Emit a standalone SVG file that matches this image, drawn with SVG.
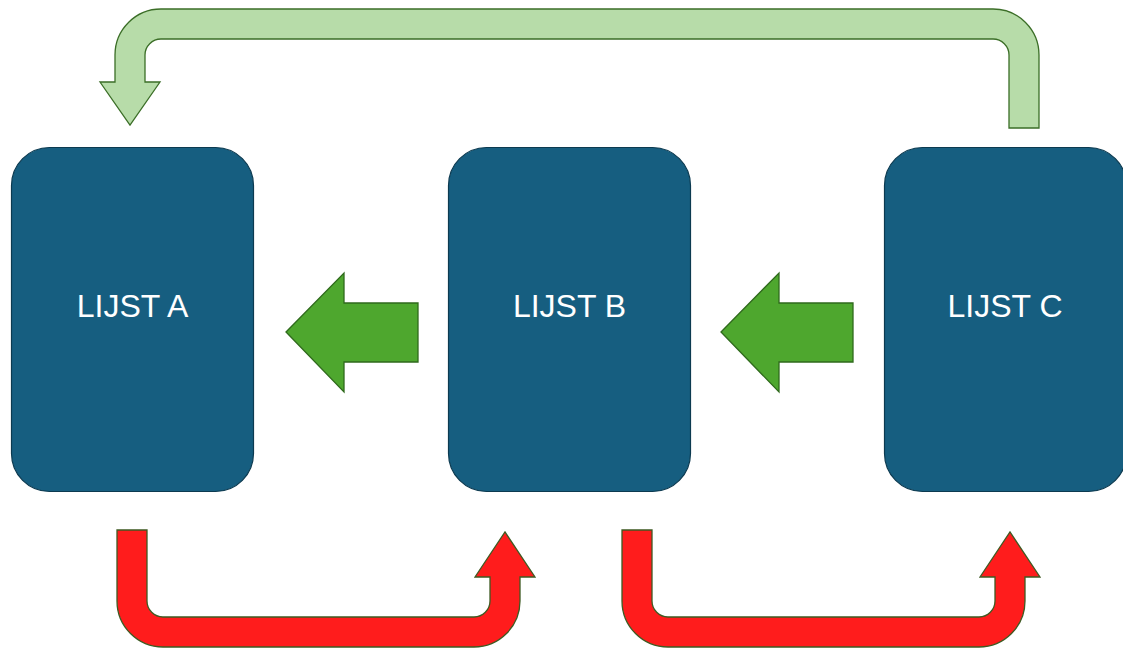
<svg xmlns="http://www.w3.org/2000/svg" width="1123" height="650" viewBox="0 0 1123 650">
  <style>
    .box { fill: #165E80; stroke: #0C3A50; stroke-width: 1.2; }
    .label { fill: #FFFFFF; font-family: "Liberation Sans", Arial, sans-serif; font-size: 32px; text-anchor: middle; }
    .back { fill: #B7DCA9; stroke: #3B6E27; stroke-width: 1.3; stroke-linejoin: miter; }
    .step { fill: #4EA72E; stroke: #2F6A1C; stroke-width: 1.3; }
    .forward { fill: #FF1C1C; stroke: #3E5A22; stroke-width: 1.3; }
  </style>
  <rect width="1123" height="650" fill="#FFFFFF"/>

  <!-- connectors -->
  <g id="connectors">
    <!-- return arrow from C back to A over the top -->
    <path class="back" d="M1009,128 L1009,55 A16,16 0 0 0 993,39 L161,39 A16,16 0 0 0 145,55 L145,82 L160,82 L130,125 L100,82 L115,82 L115,55 A46,46 0 0 1 161,9 L993,9 A46,46 0 0 1 1039,55 L1039,128 Z"/>
    <!-- step arrows pointing left -->
    <path class="step" d="M286,332 L344,273 L344,303 L418,303 L418,362 L344,362 L344,392 Z"/>
    <path class="step" d="M721,332 L779,273 L779,303 L853,303 L853,362 L779,362 L779,392 Z"/>
    <!-- forward arrows under the lists -->
    <path class="forward" d="M117,530 L117,601 A46,46 0 0 0 163,647 L474,647 A46,46 0 0 0 520,601 L520,577 L535,577 L505,532 L475,577 L490,577 L490,601 A16,16 0 0 1 474,617 L163,617 A16,16 0 0 1 147,601 L147,530 Z"/>
    <path class="forward" d="M622,530 L622,601 A46,46 0 0 0 668,647 L979,647 A46,46 0 0 0 1025,601 L1025,577 L1040,577 L1010,532 L980,577 L995,577 L995,601 A16,16 0 0 1 979,617 L668,617 A16,16 0 0 1 652,601 L652,530 Z"/>
  </g>

  <g id="lijst-a">
    <rect class="box" x="11.5" y="147.5" width="242" height="344" rx="38" ry="38"/>
    <text class="label" x="132.5" y="317">LIJST A</text>
  </g>
  <g id="lijst-b">
    <rect class="box" x="448.5" y="147.5" width="242" height="344" rx="38" ry="38"/>
    <text class="label" x="569.5" y="317">LIJST B</text>
  </g>
  <g id="lijst-c">
    <rect class="box" x="884.5" y="147.5" width="242" height="344" rx="38" ry="38"/>
    <text class="label" x="1005" y="317">LIJST C</text>
  </g>
</svg>
